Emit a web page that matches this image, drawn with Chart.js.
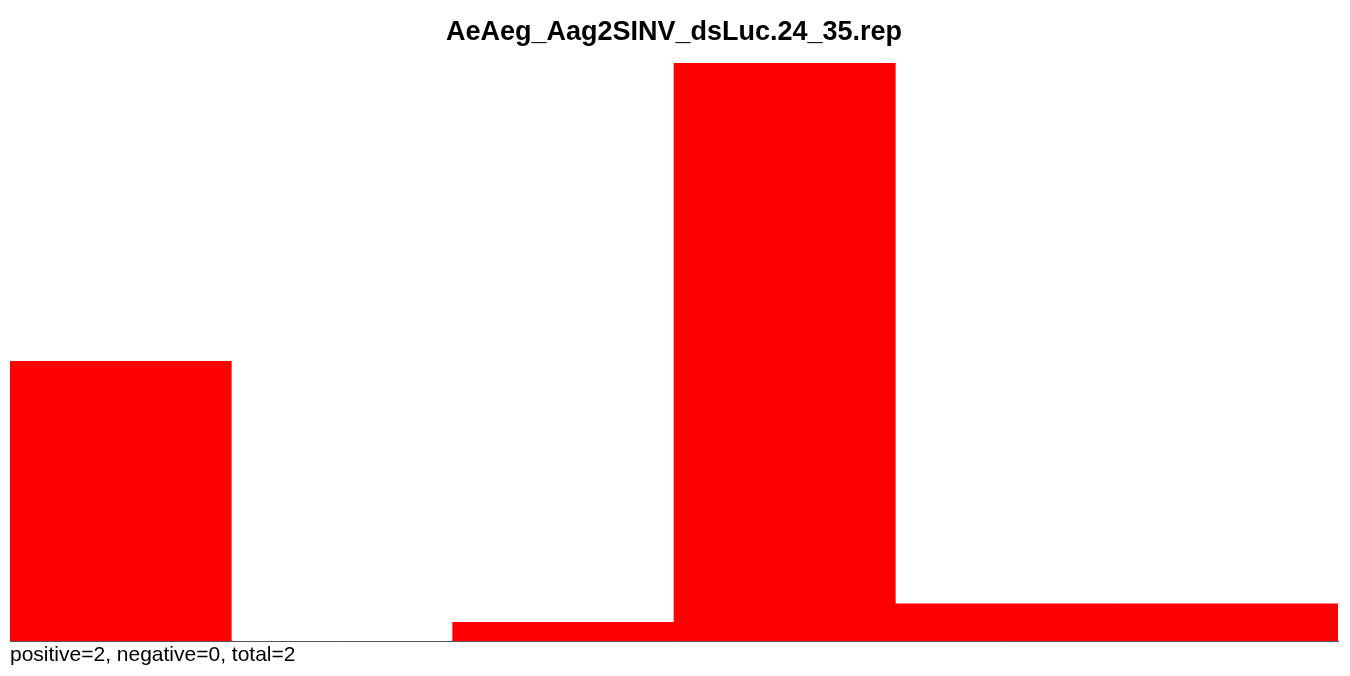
<!DOCTYPE html>
<html>
<head>
<meta charset="utf-8">
<script src="https://cdn.jsdelivr.net/npm/chart.js@4"></script>
<style>
html,body{margin:0;padding:0;background:#fff;}
#wrap{width:1350px;height:676px;position:relative;}
</style>
</head>
<body>
<div id="wrap"><canvas id="c" width="1350" height="676"></canvas></div>
<script>
const categories = ['1', '2', '3', '4', '5', '6'];
const counts = [15, 0, 1, 31, 2, 2];
const yMax = 31;
const titleText = 'AeAeg_Aag2SINV_dsLuc.24_35.rep';
const footerText = 'positive=2, negative=0, total=2';

new Chart(document.getElementById('c'), {
  type: 'bar',
  data: {
    labels: categories,
    datasets: [{
      data: counts,
      backgroundColor: '#ff0000',
      borderWidth: 0,
      barPercentage: 1,
      categoryPercentage: 1,
      inflateAmount: (ctx) => (ctx.raw === 0 ? 0 : 'auto')
    }]
  },
  options: {
    responsive: false,
    animation: false,
    layout: { padding: { left: 10, right: 12, top: 0, bottom: 0 } },
    plugins: {
      legend: { display: false },
      tooltip: { enabled: false },
      title: {
        display: true,
        text: titleText,
        color: '#000',
        font: { family: 'Liberation Sans', size: 27, weight: 'bold', lineHeight: 32 / 27 },
        padding: { top: 17, bottom: 14 }
      },
      subtitle: {
        display: true,
        text: footerText,
        position: 'bottom',
        align: 'start',
        color: '#000',
        font: { family: 'Liberation Sans', size: 21, weight: 'normal', lineHeight: 25 / 21 },
        padding: { top: 2, bottom: 8 }
      }
    },
    scales: {
      x: {
        display: true,
        grid: { display: false, drawTicks: false },
        ticks: { display: false },
        border: { display: true, color: '#555', width: 1 }
      },
      y: {
        display: false,
        min: 0,
        max: yMax
      }
    }
  }
});
</script>
</body>
</html>
